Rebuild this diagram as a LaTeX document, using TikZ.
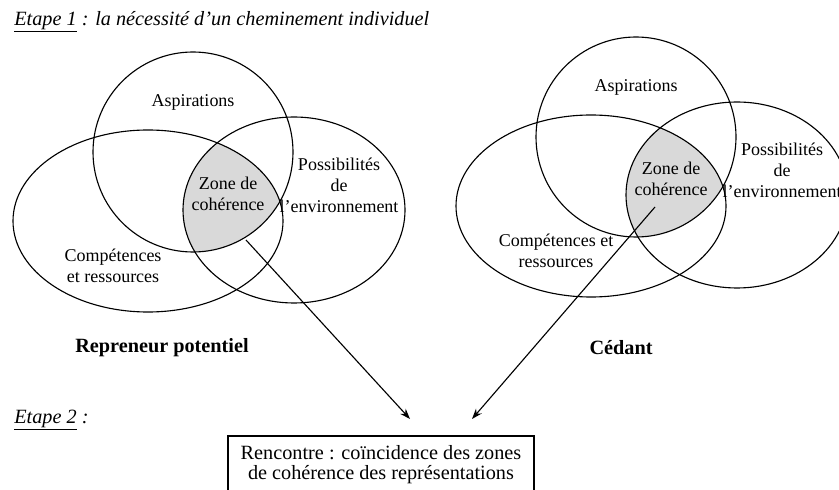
\documentclass[tikz,border=0pt]{standalone}
\usepackage{fontspec}
\setmainfont{Liberation Serif}
\usetikzlibrary{arrows.meta}

\tikzset{
  every set/.style={draw, line width=0.75pt},
  zone/.style={fill=gray!30},
  venn label/.style={align=center, font=\fontsize{12}{14}\selectfont},
  step label/.style={anchor=west, font=\fontsize{13.5}{16}\selectfont\itshape},
  side label/.style={font=\fontsize{13.5}{16}\selectfont\bfseries},
  meeting box/.style={draw, line width=0.75pt, align=center, minimum width=204pt,
    minimum height=38.7pt, font=\fontsize{13.5}{13.3}\selectfont}
}

\begin{document}
\begin{tikzpicture}[x=0.6667pt, y=-0.6667pt, >={Stealth[length=7pt, width=5pt]}]

  \clip (0,0) rectangle (839,490);

  % steps
  \node [step label] (step-1) at (9,22)
    {\underline{Etape 1} : la nécessité d’un cheminement individuel};
  \node [step label] (step-2) at (9,420) {\underline{Etape 2} :};

  % sets
  \foreach \i/\dx/\dy/\comp in {1/0/0/{Compétences\\et ressources},
                                 2/443/-15/{Compétences et\\ressources}}
  {
    \begin{scope}[shift={(\dx,\dy)}]
      \begin{scope}
        \clip (193,152) circle [radius=100];
        \clip (148,221) ellipse [x radius=135, y radius=91];
        \fill [zone] (294,210) ellipse [x radius=111, y radius=93];
      \end{scope}
      \draw [every set] (193,152) circle [radius=100];
      \draw [every set] (148,221) ellipse [x radius=135, y radius=91];
      \draw [every set] (294,210) ellipse [x radius=111, y radius=93];

      \node [venn label] (asp-\i) at (193,102) {Aspirations};
      \node [venn label] (zone-\i) at (228,194) {Zone de\\cohérence};
      \node [venn label] (poss-\i) at (339,185) {Possibilités\\de\\l’environnement};
      \node [venn label] (comp-\i) at (113,266) {\comp};
    \end{scope}
  }

  %   label
  \node [side label] (repreneur) at (162,348) {Repreneur potentiel};
  \node [side label] (cedant) at (621,348) {Cédant};

  \node [meeting box] (meeting) at (381,465)
    {Rencontre : coïncidence des zones\\de cohérence des représentations};

  \coordinate (from-1) at (246,240);
  \coordinate (to-1) at (410,419);
  \coordinate (from-2) at (655,207);
  \coordinate (to-2) at (472,419);

  \foreach \i in {1,2}
  \draw [->, line width=0.75pt] (from-\i) -- (to-\i);

\end{tikzpicture}
\end{document}
